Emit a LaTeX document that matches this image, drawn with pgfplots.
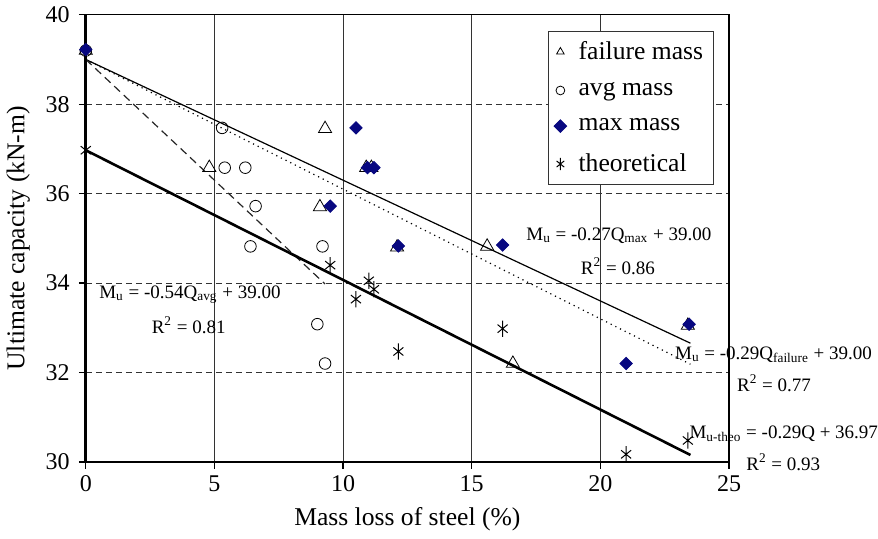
\documentclass[border=0pt]{standalone}
\usepackage{fontspec}
\setmainfont{Liberation Serif}
\usepackage{pgfplots}
\pgfplotsset{compat=1.18}
\definecolor{marknavy}{RGB}{8,8,128}

\begin{document}
\begin{tikzpicture}
\begin{axis}[
  scale only axis,
  width=321.5pt, height=223.5pt,
  xmin=0, xmax=25, ymin=30, ymax=40,
  xtick={0,5,...,25}, ytick={30,32,...,40},
  xtick pos=bottom, ytick pos=left,
  tick align=outside,
  major tick length=3.5pt,
  /pgf/number format/assume math mode=true,
  tick label style={font=\fontsize{12}{14}\selectfont},
  yticklabel style={xshift=-1pt},
  xmajorgrids, ymajorgrids,
  x grid style={black!80, line width=0.5pt},
  y grid style={black!80, line width=0.5pt, dash pattern=on 3pt off 2pt},
  axis line style={line width=0.6pt},
  every tick/.style={black, line width=0.6pt},
  xlabel={Mass loss of steel (\%)},
  ylabel={Ultimate capacity (kN-m)},
  label style={font=\fontsize{12.8}{15}\selectfont},
  xlabel style={yshift=-1pt},
  ylabel style={yshift=1pt},
  clip=false,
  legend cell align=left,
  legend style={at={(0.976,0.964)}, anchor=north east,
                font=\fontsize{12.8}{15}\selectfont,
                draw=black!80, line width=0.5pt,
                row sep=6pt, inner xsep=3pt, inner ysep=3pt,
                /tikz/every odd column/.append style={column sep=4pt}},
  legend image post style={mark size=2.2pt},
]
% failure mass
\addplot[only marks, mark=triangle, mark size=3.8pt, black, line width=0.4pt] coordinates {
  (0,39.2) (4.8,36.58) (9.3,37.45) (9.1,35.7) (10.9,36.58) (11.1,36.58)
  (12.1,34.8) (15.6,34.82) (16.6,32.2) (23.4,33.05)};
% avg mass
\addplot[only marks, mark=o, mark size=2.9pt, black, line width=0.4pt] coordinates {
  (0,39.2) (5.3,37.47) (5.4,36.58) (6.2,36.58) (6.6,35.72) (6.4,34.82)
  (9.2,34.82) (9.0,33.08) (9.3,32.2)};
% max mass
\addplot[only marks, mark=square*, mark size=2.2pt, mark options={rotate=45},
  color=marknavy] coordinates {
  (0,39.22) (10.5,37.47) (10.95,36.58) (11.2,36.58) (9.5,35.72)
  (12.15,34.83) (16.2,34.85) (21.0,32.2) (23.45,33.08)};
% theoretical
\addplot[only marks, mark=asterisk, mark size=2.9pt, mark options={yscale=1.4},
  black, line width=0.5pt] coordinates {
  (0,36.97) (9.5,34.4) (11.0,34.05) (11.2,33.86) (10.5,33.64)
  (12.15,32.47) (16.2,32.98) (21.0,30.17) (23.4,30.48)};
\legend{failure mass, avg mass, max mass, theoretical}
% trend lines
\addplot[forget plot, black, line width=0.6pt] coordinates {(0,39.00) (23.5,32.655)};
\addplot[forget plot, black, line width=0.6pt, dotted] coordinates {(0,39.00) (23.5,32.185)};
\addplot[forget plot, black!85, line width=0.6pt, dash pattern=on 4pt off 2.5pt] coordinates {(0,39.00) (9.3,33.978)};
\addplot[forget plot, black, line width=1.3pt] coordinates {(0,36.97) (23.5,30.155)};
% heavier left and bottom axis lines
\draw[line width=1.3pt] (rel axis cs:0,1) -- (rel axis cs:0,0) -- (rel axis cs:1,0);
% equations
\begin{scope}[every node/.style={font=\fontsize{9.5}{11}\selectfont, inner sep=0pt}]
\node at (axis cs:20.72,35.05) {M\textsubscript{u} = -0.27Q\textsubscript{max} + 39.00};
\node at (axis cs:20.68,34.38) {R\textsuperscript{2} = 0.86};
\node at (axis cs:4.05,33.74) {M\textsubscript{u} = -0.54Q\textsubscript{avg} + 39.00};
\node at (axis cs:4.0,33.06) {R\textsuperscript{2} = 0.81};
\node at (axis cs:26.73,32.39) {M\textsubscript{u} = -0.29Q\textsubscript{failure} + 39.00};
\node at (axis cs:26.75,31.76) {R\textsuperscript{2} = 0.77};
\node at (axis cs:27.13,30.62) {M\textsubscript{u-theo} = -0.29Q + 36.97};
\node at (axis cs:27.11,30.00) {R\textsuperscript{2} = 0.93};
\end{scope}
\end{axis}
\end{tikzpicture}
\end{document}
